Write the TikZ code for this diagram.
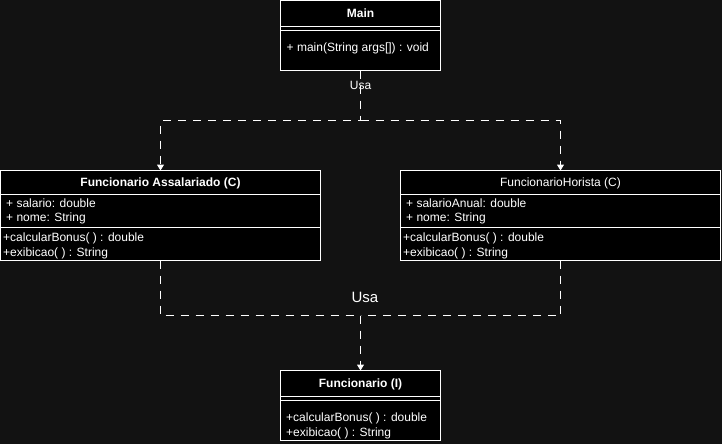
\documentclass[tikz,border=0pt]{standalone}
\usepackage{fontspec}
\setmainfont{Liberation Sans}
\usetikzlibrary{arrows.meta}
\definecolor{bgc}{RGB}{18,18,18}
\begin{document}
\begin{tikzpicture}[x=1pt,y=-1pt,
  box/.style={draw=white, fill=black, line width=1pt, inner sep=0pt, outer sep=0pt, anchor=north west},
  sep/.style={draw=white, line width=1pt},
  txt/.style={text=white, font=\fontsize{12}{14}\selectfont, inner sep=0pt},
  conn/.style={draw=white, line width=1pt, dash pattern=on 8pt off 7pt},
  arr/.style={-{Triangle[width=7pt,length=6pt]}}]
\fill[bgc] (0,0) rectangle (722,444);
\useasboundingbox (0,0) rectangle (722,444);

% Main
\node[box, minimum width=160pt, minimum height=70pt] (main) at (280.5,0.5) {};
\draw[sep] ([yshift=-26pt]main.north west) -- ([yshift=-26pt]main.north east);
\draw[sep] ([yshift=-30pt]main.north west) -- ([yshift=-30pt]main.north east);
\node[txt, font=\fontsize{12}{14}\selectfont\bfseries, anchor=base] (mainh) at (360.5,17.5) {Main};
\node[txt, anchor=base west] (mainm) at (286.5,51.5) {+ main(String args[]) : void};

% Funcionario Assalariado
\node[box, minimum width=320pt, minimum height=90pt] (assal) at (0.5,170.5) {};
\draw[sep] ([yshift=-24pt]assal.north west) -- ([yshift=-24pt]assal.north east);
\draw[sep] ([yshift=-57pt]assal.north west) -- ([yshift=-57pt]assal.north east);
\node[txt, font=\fontsize{12}{14}\selectfont\bfseries, anchor=base] (assalh) at (160.5,186.5) {Funcionario Assalariado (C)};
\node[txt, anchor=base west] (assala1) at (6,207.5) {+ salario: double};
\node[txt, anchor=base west] (assala2) at (6,221) {+ nome: String};
\node[txt, anchor=base west] (assalm1) at (3,241.5) {+calcularBonus( ) : double};
\node[txt, anchor=base west] (assalm2) at (3,256) {+exibicao( ) : String};

% FuncionarioHorista
\node[box, minimum width=320pt, minimum height=90pt] (hor) at (400.5,170.5) {};
\draw[sep] ([yshift=-24pt]hor.north west) -- ([yshift=-24pt]hor.north east);
\draw[sep] ([yshift=-57pt]hor.north west) -- ([yshift=-57pt]hor.north east);
\node[txt, anchor=base] (horh) at (560.5,186.5) {FuncionarioHorista (C)};
\node[txt, anchor=base west] (hora1) at (406,207.5) {+ salarioAnual: double};
\node[txt, anchor=base west] (hora2) at (406,221) {+ nome: String};
\node[txt, anchor=base west] (horm1) at (403,241.5) {+calcularBonus( ) : double};
\node[txt, anchor=base west] (horm2) at (403,256) {+exibicao( ) : String};

% Funcionario (I)
\node[box, minimum width=160pt, minimum height=70pt] (func) at (280.5,370.5) {};
\draw[sep] ([yshift=-26pt]func.north west) -- ([yshift=-26pt]func.north east);
\draw[sep] ([yshift=-30pt]func.north west) -- ([yshift=-30pt]func.north east);
\node[txt, font=\fontsize{12}{14}\selectfont\bfseries, anchor=base] (funch) at (360.5,387.5) {Funcionario (I)};
\node[txt, anchor=base west] (funcm1) at (286,421.5) {+calcularBonus( ) : double};
\node[txt, anchor=base west] (funcm2) at (286,436) {+exibicao( ) : String};

% connectors
\coordinate (j1) at (360.5,120.5);
\coordinate (j2) at (360.5,315.5);
\draw[conn, arr] (main.south) -- (j1) -| (assal.north);
\draw[conn, arr] (j1) -| (hor.north);
\draw[conn] (assal.south) |- (j2);
\draw[conn] (hor.south) |- (j2);
\draw[conn, arr] (j2) -- (func.north);

\node[txt, anchor=base] (usa1) at (360.5,89.5) {Usa};
\node[txt, font=\fontsize{15}{18}\selectfont, anchor=base] (usa2) at (365,302.5) {Usa};
\end{tikzpicture}
\end{document}
